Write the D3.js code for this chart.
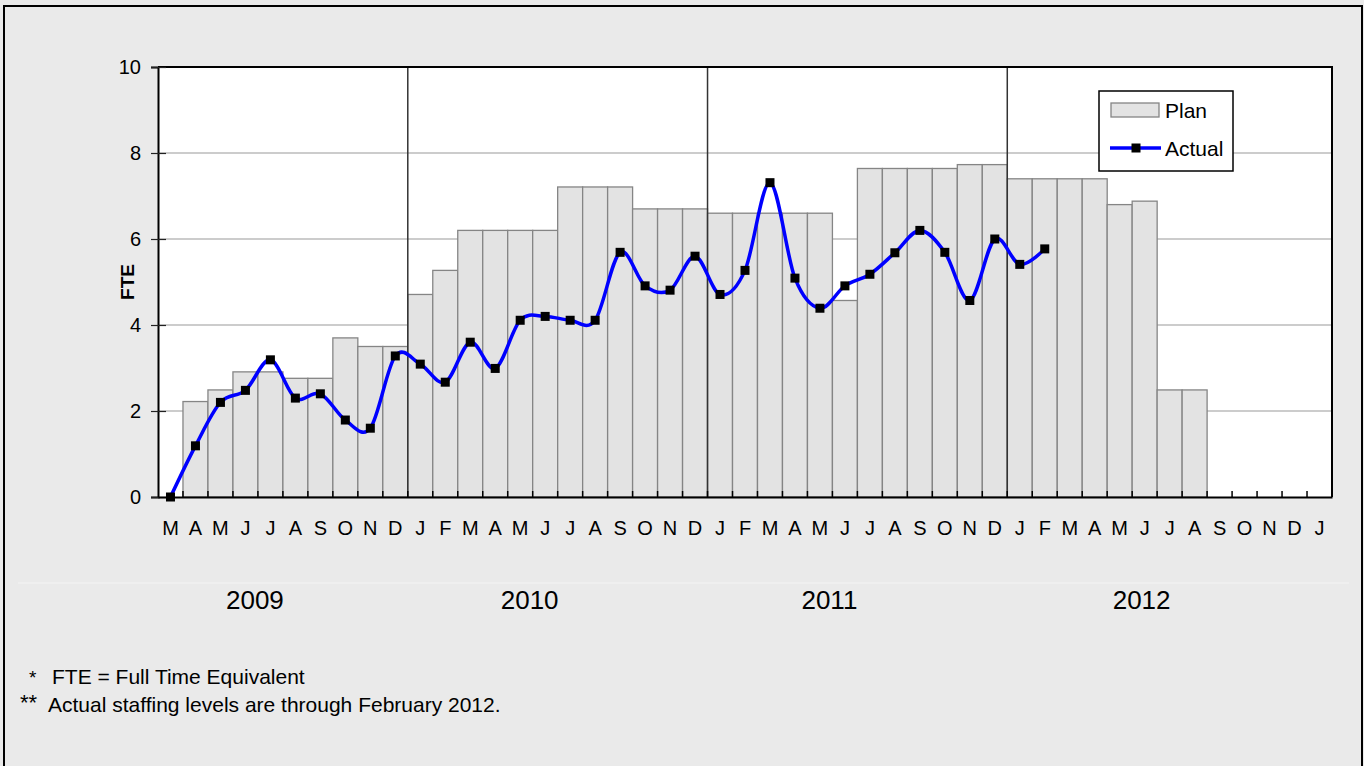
<!DOCTYPE html>
<html>
<head>
<meta charset="utf-8">
<script src="https://cdn.jsdelivr.net/npm/d3@7"></script>
<style>
  body { margin: 0; background: #eaeaea; }
  svg { display: block; font-family: Arial, "Liberation Sans", sans-serif; }
</style>
</head>
<body>
<div id="chart"></div>
<script>
// month letters, March 2009 to January 2013
const months = ["M","A","M","J","J","A","S","O","N","D",
  "J","F","M","A","M","J","J","A","S","O","N","D",
  "J","F","M","A","M","J","J","A","S","O","N","D",
  "J","F","M","A","M","J","J","A","S","O","N","D","J"];

const years = ["2009", "2010", "2011", "2012"];
const monthsPerYear = [10, 12, 12, 13];

// planned FTE per month (null = no bar)
const plan = [null, 2.22, 2.49, 2.91, 2.91, 2.76, 2.76, 3.7, 3.5, 3.5,
  4.71, 5.27, 6.2, 6.2, 6.2, 6.2, 7.21, 7.21, 7.21, 6.7, 6.7, 6.7,
  6.6, 6.6, 6.6, 6.6, 6.6, 4.57, 7.64, 7.64, 7.64, 7.64, 7.73, 7.73,
  7.4, 7.4, 7.4, 7.4, 6.8, 6.88, 2.49, 2.49, null, null, null, null, null];

// actual FTE, through February 2012
const actual = [0, 1.19, 2.2, 2.48, 3.19, 2.3, 2.4, 1.79, 1.6, 3.28,
  3.09, 2.67, 3.6, 2.99, 4.11, 4.2, 4.11, 4.11, 5.69, 4.91, 4.81, 5.6,
  4.71, 5.27, 7.31, 5.09, 4.39, 4.91, 5.18, 5.68, 6.2, 5.69, 4.57, 6.0,
  5.41, 5.77];

const yTicks = [0, 2, 4, 6, 8, 10];

const W = 1364, H = 766;
const svg = d3.select("#chart").append("svg")
  .attr("width", W)
  .attr("height", H);

// outer frame
svg.append("rect")
  .attr("x", 4).attr("y", 6)
  .attr("width", W - 6).attr("height", H + 20)
  .attr("fill", "#eaeaea")
  .attr("stroke", "black")
  .attr("stroke-width", 2);

const pLeft = 158, pRight = 1332, pTop = 67, pBottom = 497;

const x = d3.scaleBand()
  .domain(d3.range(months.length))
  .range([pLeft, pRight])
  .padding(0);

const y = d3.scaleLinear()
  .domain([0, 10])
  .range([pBottom, pTop]);

// plot background
svg.append("rect")
  .attr("x", pLeft).attr("y", pTop)
  .attr("width", pRight - pLeft).attr("height", pBottom - pTop)
  .attr("fill", "white");

// gridlines
svg.append("g")
  .selectAll("line")
  .data(yTicks.filter(d => d > 0 && d < 10))
  .enter()
  .append("line")
  .attr("x1", pLeft).attr("x2", pRight)
  .attr("y1", d => y(d)).attr("y2", d => y(d))
  .style("stroke", "#9a9a9a")
  .style("stroke-width", 1.2);

// plan bars
svg.append("g")
  .selectAll("rect")
  .data(plan.map((v, i) => ({ v, i })).filter(d => d.v != null))
  .enter()
  .append("rect")
  .attr("x", d => x(d.i))
  .attr("y", d => y(d.v))
  .attr("width", x.bandwidth())
  .attr("height", d => pBottom - y(d.v))
  .style("fill", "#e3e3e3")
  .style("stroke", "#858585")
  .style("stroke-width", 1.3);

// year dividers
let acc = 0;
const bounds = monthsPerYear.map(n => { const s = acc; acc += n; return { start: s, end: acc }; });
svg.append("g")
  .selectAll("line")
  .data(bounds.slice(1))
  .enter()
  .append("line")
  .attr("x1", d => x(d.start)).attr("x2", d => x(d.start))
  .attr("y1", pTop).attr("y2", pBottom)
  .style("stroke", "#333")
  .style("stroke-width", 1.5);

// plot frame (top/right)
svg.append("path")
  .attr("d", `M${pLeft},${pTop}H${pRight}V${pBottom}`)
  .attr("fill", "none")
  .style("stroke", "black")
  .style("stroke-width", 2);

// y axis
const yAxis = svg.append("g")
  .attr("transform", `translate(${pLeft},0)`)
  .call(d3.axisLeft(y).tickValues(yTicks).tickSize(7).tickPadding(10).tickFormat(d3.format("d")));
yAxis.select(".domain").style("stroke", "black").style("stroke-width", 2);
yAxis.selectAll(".tick line").attr("x1", -7).attr("x2", 8).style("stroke", "#222").style("stroke-width", 1.2);
yAxis.selectAll(".tick text")
  .style("font-size", "20px")
  .style("font-family", "Arial, 'Liberation Sans', sans-serif")
  .attr("fill", "black");

// x axis
const xAxis = svg.append("g")
  .attr("transform", `translate(0,${pBottom})`)
  .call(d3.axisBottom(x).tickSize(0).tickPadding(0).tickFormat(i => months[i]));
xAxis.select(".domain").style("stroke", "black").style("stroke-width", 2);
xAxis.selectAll(".tick text")
  .attr("y", 38)
  .attr("dy", 0)
  .style("font-size", "20px")
  .style("font-family", "Arial, 'Liberation Sans', sans-serif")
  .attr("fill", "black");

// tick marks at month boundaries
svg.append("g")
  .selectAll("line")
  .data(d3.range(1, months.length))
  .enter()
  .append("line")
  .attr("x1", d => x(d)).attr("x2", d => x(d))
  .attr("y1", pBottom).attr("y2", pBottom - 6)
  .style("stroke", "black")
  .style("stroke-width", 1.5);

// actual line
const line = d3.line()
  .x((d, i) => x(i) + x.bandwidth() / 2)
  .y(d => y(d))
  .curve(d3.curveCardinal.tension(0));

svg.append("path")
  .attr("d", line(actual))
  .attr("fill", "none")
  .style("stroke", "#0000ff")
  .style("stroke-width", 3.5);

svg.append("g")
  .selectAll("rect")
  .data(actual)
  .enter()
  .append("rect")
  .attr("x", (d, i) => x(i) + x.bandwidth() / 2 - 4.5)
  .attr("y", d => y(d) - 4.5)
  .attr("width", 9).attr("height", 9)
  .style("fill", "black");

// y title
svg.append("text")
  .attr("transform", "translate(134,282) rotate(-90)")
  .text("FTE")
  .style("text-anchor", "middle")
  .style("font-size", "19px")
  .style("font-weight", "bold")
  .style("fill", "black");

// faint separator and year labels
svg.append("line")
  .attr("x1", 18).attr("x2", 1349)
  .attr("y1", 583).attr("y2", 583)
  .style("stroke", "#f4f4f4")
  .style("stroke-width", 1);

svg.append("g")
  .selectAll("text")
  .data(bounds)
  .enter()
  .append("text")
  .attr("x", d => (x(d.start) + x(d.end - 1) + x.bandwidth()) / 2 - 28)
  .attr("y", 609)
  .text((d, i) => years[i])
  .style("text-anchor", "middle")
  .style("font-size", "26px")
  .style("fill", "black");

// legend
const lg = svg.append("g");
lg.append("rect")
  .attr("x", 1099).attr("y", 91).attr("width", 134).attr("height", 80)
  .attr("fill", "white").attr("stroke", "black").attr("stroke-width", 1.5);
lg.append("rect")
  .attr("x", 1111).attr("y", 103).attr("width", 48).attr("height", 14)
  .style("fill", "#e3e3e3").style("stroke", "#858585").style("stroke-width", 1.3);
lg.append("text")
  .attr("x", 1165).attr("y", 118)
  .text("Plan")
  .style("font-size", "21px");
lg.append("line")
  .attr("x1", 1110).attr("x2", 1161).attr("y1", 148).attr("y2", 148)
  .style("stroke", "#0000ff").style("stroke-width", 3.5);
lg.append("rect")
  .attr("x", 1131.5).attr("y", 143.5).attr("width", 9).attr("height", 9)
  .style("fill", "black");
lg.append("text")
  .attr("x", 1165).attr("y", 156)
  .text("Actual")
  .style("font-size", "21px");

// footnotes
svg.append("text").attr("x", 29).attr("y", 684).text("*").style("font-size", "19px");
svg.append("text").attr("x", 52).attr("y", 684).text("FTE = Full Time Equivalent").style("font-size", "21px");
svg.append("text").attr("x", 20).attr("y", 710).text("**").style("font-size", "22px");
svg.append("text").attr("x", 48).attr("y", 712).text("Actual staffing levels are through February 2012.").style("font-size", "21px");
</script>
</body>
</html>
